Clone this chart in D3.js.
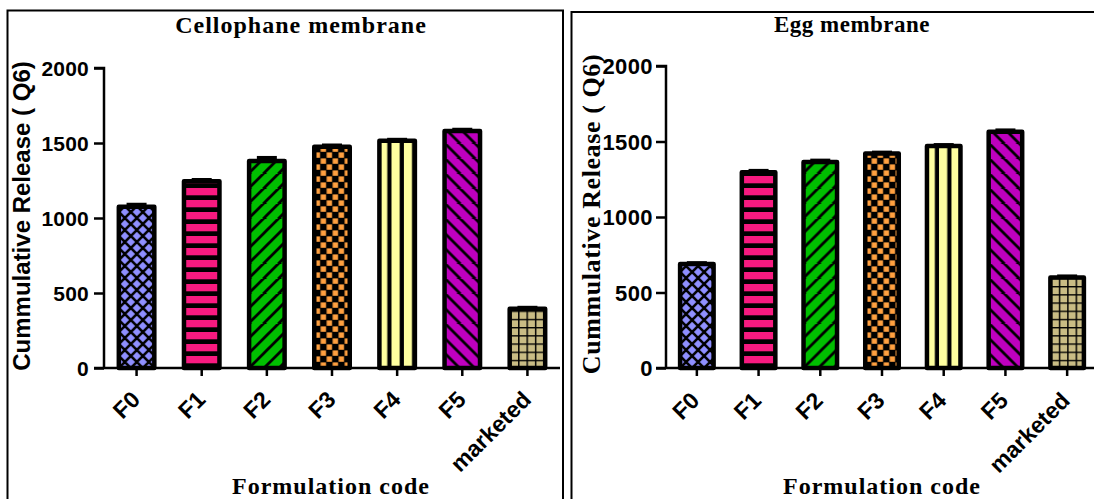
<!DOCTYPE html>
<html>
<head>
<meta charset="utf-8">
<script src="https://cdn.jsdelivr.net/npm/d3@7"></script>
<style>
  html, body { margin: 0; padding: 0; background: #fff; }
  svg { display: block; }
</style>
</head>
<body>
<svg id="chart" width="1094" height="499"></svg>
<script>
// ---- data ----
const categories = ["F0", "F1", "F2", "F3", "F4", "F5", "marketed"];
const cellophaneMeans = [1075, 1245, 1380, 1475, 1515, 1580, 395];
const cellophaneErrors = [15, 10, 22, 10, 8, 10, 8];
const eggMeans = [688, 1297, 1365, 1420, 1470, 1565, 600];
const eggErrors = [8, 10, 10, 8, 8, 10, 8];
const yTicks = [0, 500, 1000, 1500, 2000];
const yMax = 2000;
const barColors = ["#8F8FFF", "#F81A80", "#00BF00", "#FFA040", "#FFFFA0", "#BF00BF", "#C9BC84"];

const svg = d3.select("#chart");
const defs = svg.append("defs");
const SANS = "'Liberation Sans', Arial, sans-serif";
const SERIF = "'Liberation Serif', 'Times New Roman', serif";

function makePattern(id, i, px, py) {
  const c = barColors[i];
  let p;
  if (i === 0) {
    p = defs.append("pattern").attr("id", id).attr("patternUnits", "userSpaceOnUse")
      .attr("x", px).attr("y", py).attr("width", 12).attr("height", 12);
    p.append("rect").attr("width", 12).attr("height", 12).attr("fill", c);
    p.append("path").attr("d", "M-1,-1L13,13M13,-1L-1,13").attr("stroke", "#000").attr("stroke-width", 2.6);
  } else if (i === 1) {
    p = defs.append("pattern").attr("id", id).attr("patternUnits", "userSpaceOnUse")
      .attr("x", px).attr("y", py).attr("width", 12).attr("height", 12);
    p.append("rect").attr("width", 12).attr("height", 12).attr("fill", c);
    p.append("rect").attr("y", 7.3).attr("width", 12).attr("height", 4.7).attr("fill", "#000");
  } else if (i === 2) {
    p = defs.append("pattern").attr("id", id).attr("patternUnits", "userSpaceOnUse")
      .attr("x", px).attr("y", py).attr("width", 15).attr("height", 15);
    p.append("rect").attr("width", 15).attr("height", 15).attr("fill", c);
    p.append("path").attr("d", "M-1,16L16,-1M-4,4L4,-4M11,19L19,11").attr("stroke", "#000").attr("stroke-width", 2.8);
  } else if (i === 3) {
    p = defs.append("pattern").attr("id", id).attr("patternUnits", "userSpaceOnUse")
      .attr("x", px).attr("y", py).attr("width", 12).attr("height", 12);
    p.append("rect").attr("width", 12).attr("height", 12).attr("fill", "#000");
    p.append("rect").attr("x", 0.4).attr("y", 0.4).attr("width", 5.4).attr("height", 5.4).attr("fill", c);
    p.append("rect").attr("x", 6.4).attr("y", 6.4).attr("width", 5.4).attr("height", 5.4).attr("fill", c);
  } else if (i === 4) {
    p = defs.append("pattern").attr("id", id).attr("patternUnits", "userSpaceOnUse")
      .attr("x", px - 0.3).attr("y", py).attr("width", 12.4).attr("height", 12);
    p.append("rect").attr("width", 12.4).attr("height", 12).attr("fill", c);
    p.append("rect").attr("x", 8.2).attr("width", 4.2).attr("height", 12).attr("fill", "#000");
  } else if (i === 5) {
    p = defs.append("pattern").attr("id", id).attr("patternUnits", "userSpaceOnUse")
      .attr("x", px).attr("y", py).attr("width", 15).attr("height", 15);
    p.append("rect").attr("width", 15).attr("height", 15).attr("fill", c);
    p.append("path").attr("d", "M-1,-1L16,16M-4,11L4,19M11,-4L19,4").attr("stroke", "#000").attr("stroke-width", 2.8);
  } else {
    p = defs.append("pattern").attr("id", id).attr("patternUnits", "userSpaceOnUse")
      .attr("x", px).attr("y", py).attr("width", 8.4).attr("height", 8.2);
    p.append("rect").attr("width", 8.4).attr("height", 8.2).attr("fill", c);
    p.append("path").attr("d", "M0,0.7H8.4M0.7,0V8.2").attr("stroke", "#000").attr("stroke-width", 1.5);
  }
}

function drawPanel(cfg) {
  const g = svg.append("g");
  // panel border
  g.append("rect").attr("x", cfg.border[0]).attr("y", cfg.border[1])
    .attr("width", cfg.border[2]).attr("height", cfg.border[3])
    .attr("fill", "none").attr("stroke", "#000").attr("stroke-width", 2);

  const x = d3.scaleBand().domain(categories).range([cfg.x0, cfg.x1])
    .paddingInner(cfg.pad).paddingOuter(cfg.pad / 2);
  const y = d3.scaleLinear().domain([0, yMax]).range([cfg.yBottom, cfg.yTop]);
  const sw = 4.5;

  // bars
  categories.forEach((cat, i) => {
    const bx = x(cat) + sw / 2;
    const bw = x.bandwidth() - sw;
    const pid = cfg.id + "-p" + i;
    makePattern(pid, i, bx, cfg.yBottom);
    const v = cfg.means[i], e = cfg.errors[i];
    const cx = x(cat) + x.bandwidth() / 2;
    // error bar
    g.append("line").attr("x1", cx).attr("x2", cx).attr("y1", y(v)).attr("y2", y(v + e))
      .attr("stroke", "#000").attr("stroke-width", 3);
    g.append("line").attr("x1", cx - 10).attr("x2", cx + 10).attr("y1", y(v + e)).attr("y2", y(v + e))
      .attr("stroke", "#000").attr("stroke-width", 3.5);
    g.append("rect").attr("x", bx).attr("y", y(v)).attr("width", bw).attr("height", y(0) - y(v))
      .attr("fill", `url(#${pid})`).attr("stroke", "#000").attr("stroke-width", sw)
      .attr("stroke-linejoin", "round");
  });

  // y axis
  const ya = g.append("g").attr("transform", `translate(${cfg.x0},0)`)
    .call(d3.axisLeft(y).tickValues(yTicks).tickSize(10).tickPadding(cfg.tickPad).tickFormat(d3.format("d")));
  ya.attr("font-size", null).attr("font-family", null);
  ya.select(".domain").attr("stroke-width", 2.5).attr("d", `M-10,${cfg.yTop}H0V${cfg.yBottom}`);
  ya.selectAll(".tick line").attr("stroke-width", 2.5);
  ya.selectAll(".tick text").attr("font-family", SANS).attr("font-weight", "bold")
    .style("font-size", cfg.tickFont + "px").attr("fill", "#000").attr("letter-spacing", cfg.tickLs)
    .attr("dy", "0.36em");

  // x axis
  const xa = g.append("g").attr("transform", `translate(0,${cfg.yBottom})`)
    .call(d3.axisBottom(x).tickSize(8).tickSizeOuter(0));
  xa.attr("font-size", null).attr("font-family", null);
  xa.select(".domain").attr("stroke-width", 2.5).attr("d", `M${cfg.x0 - 10},0H${cfg.x1}`);
  xa.selectAll(".tick line").attr("stroke-width", 2.5);
  xa.selectAll(".tick text")
    .attr("font-family", SANS).attr("font-weight", "bold").style("font-size", "23px").attr("fill", "#000")
    .attr("text-anchor", "end").attr("dy", null).attr("y", null)
    .attr("transform", `translate(${cfg.lblDx},${cfg.lblY}) rotate(-45)`);

  // titles
  g.append("text").attr("x", cfg.titleX).attr("y", cfg.titleY).attr("text-anchor", "middle")
    .attr("font-family", SERIF).attr("font-weight", "bold").attr("font-size", cfg.titleFont)
    .attr("letter-spacing", cfg.titleLs).text(cfg.title);
  g.append("text").attr("x", cfg.xTitleX).attr("y", cfg.xTitleY).attr("text-anchor", "middle")
    .attr("font-family", SERIF).attr("font-weight", "bold").attr("font-size", 24)
    .attr("letter-spacing", 1).text("Formulation code");
  g.append("text").attr("transform", `translate(${cfg.yTitleX},${cfg.yTitleY}) rotate(-90)`)
    .attr("text-anchor", "middle")
    .attr("font-family", cfg.yTitleSerif ? SERIF : SANS).attr("font-weight", "bold")
    .attr("font-size", cfg.yTitleFont).attr("letter-spacing", cfg.yTitleLs)
    .text("Cummulative Release ( Q6)");
}

drawPanel({
  id: "cel", means: cellophaneMeans, errors: cellophaneErrors,
  border: [7.5, 10.5, 555.5, 500],
  x0: 104, x1: 560, yTop: 68, yBottom: 368, pad: 0.386,
  tickFont: 21, tickLs: 0.2, tickPad: 5,
  lblDx: 5, lblY: 33,
  title: "Cellophane membrane", titleX: 301, titleY: 33, titleFont: 24, titleLs: 1,
  xTitleX: 331, xTitleY: 494,
  yTitleX: 30, yTitleY: 216, yTitleFont: 24, yTitleLs: 0, yTitleSerif: false
});

drawPanel({
  id: "egg", means: eggMeans, errors: eggErrors,
  border: [571.5, 12, 540, 500],
  x0: 666, x1: 1098, yTop: 66, yBottom: 368, pad: 0.384,
  tickFont: 22, tickLs: 0.4, tickPad: 3,
  lblDx: 4, lblY: 34,
  title: "Egg membrane", titleX: 852, titleY: 32, titleFont: 23, titleLs: 0.5,
  xTitleX: 882, xTitleY: 494,
  yTitleX: 600, yTitleY: 214, yTitleFont: 26, yTitleLs: 0.6, yTitleSerif: true
});
</script>
</body>
</html>
